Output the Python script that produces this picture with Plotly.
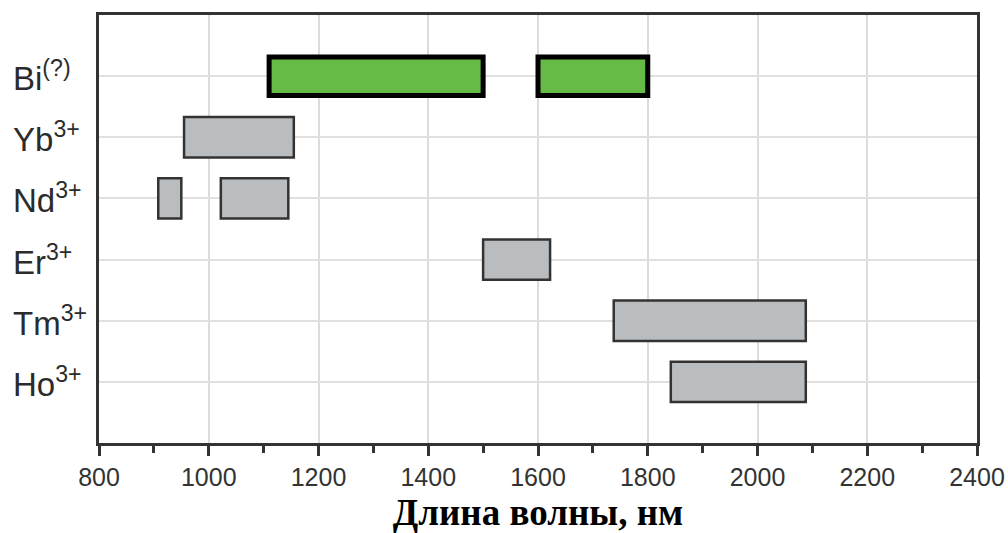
import plotly.graph_objects as go

# Emission bands of dopant ions (wavelength ranges, nm)
ions = ["Bi<sup>(?)</sup>", "Yb<sup>3+</sup>", "Nd<sup>3+</sup>",
        "Er<sup>3+</sup>", "Tm<sup>3+</sup>", "Ho<sup>3+</sup>"]
row_pos = [5, 4, 3, 2, 1, 0]

# Bismuth bands
bi_start = [1110, 1600]
bi_end = [1500, 1800]
bi_row = [5, 5]

# Rare-earth bands
re_start = [955, 908, 1022, 1500, 1738, 1842]
re_end = [1155, 950, 1145, 1622, 2088, 2088]
re_row = [4, 3, 3, 2, 1, 0]

x_ticks = [800, 1000, 1200, 1400, 1600, 1800, 2000, 2200, 2400]

fig = go.Figure()

fig.add_trace(go.Bar(
    orientation="h",
    y=re_row,
    base=re_start,
    x=[e - s for s, e in zip(re_start, re_end)],
    width=0.66,
    marker=dict(color="#babdc0", line=dict(color="#333333", width=2.5)),
    showlegend=False,
))

fig.add_trace(go.Bar(
    orientation="h",
    y=bi_row,
    base=bi_start,
    x=[e - s for s, e in zip(bi_start, bi_end)],
    width=0.63,
    marker=dict(color="#66bb46", line=dict(color="#000000", width=5)),
    showlegend=False,
))

# Row labels, left-aligned at the figure edge
for label, pos in zip(ions, row_pos):
    fig.add_annotation(
        x=0, xref="paper", xshift=-88, xanchor="left",
        y=pos, yref="y", yanchor="middle",
        text=label, showarrow=False,
        font=dict(family="Liberation Sans, Arial", size=33, color="#2b2b2b"),
    )

fig.update_layout(
    width=1008, height=533,
    margin=dict(l=99, r=31, t=15, b=90, autoexpand=False),
    paper_bgcolor="white", plot_bgcolor="white",
    barmode="overlay",
    xaxis=dict(
        range=[800, 2400],
        tickvals=x_ticks,
        automargin=False,
        ticks="outside", ticklen=10, tickwidth=2.5, tickcolor="#333333",
        minor=dict(ticks="outside", dtick=100, ticklen=7, tickwidth=2.5,
                   tickcolor="#333333", showgrid=False),
        showgrid=True, gridcolor="#dcdcdc", gridwidth=2,
        showline=True, linecolor="#333333", linewidth=3, mirror=True,
        zeroline=False,
        tickfont=dict(family="Liberation Sans, Arial", size=25, color="#333333"),
        title=dict(text="<b>Длина волны, нм</b>", standoff=12,
                   font=dict(family="Liberation Serif, Times New Roman",
                             size=37, color="#000000")),
    ),
    yaxis=dict(
        range=[-1, 6],
        tickvals=row_pos,
        automargin=False,
        showticklabels=False,
        ticks="",
        showgrid=True, gridcolor="#e0e0e0", gridwidth=2,
        showline=True, linecolor="#333333", linewidth=3, mirror=True,
        zeroline=False,
    ),
)

fig.write_html("out.html")
